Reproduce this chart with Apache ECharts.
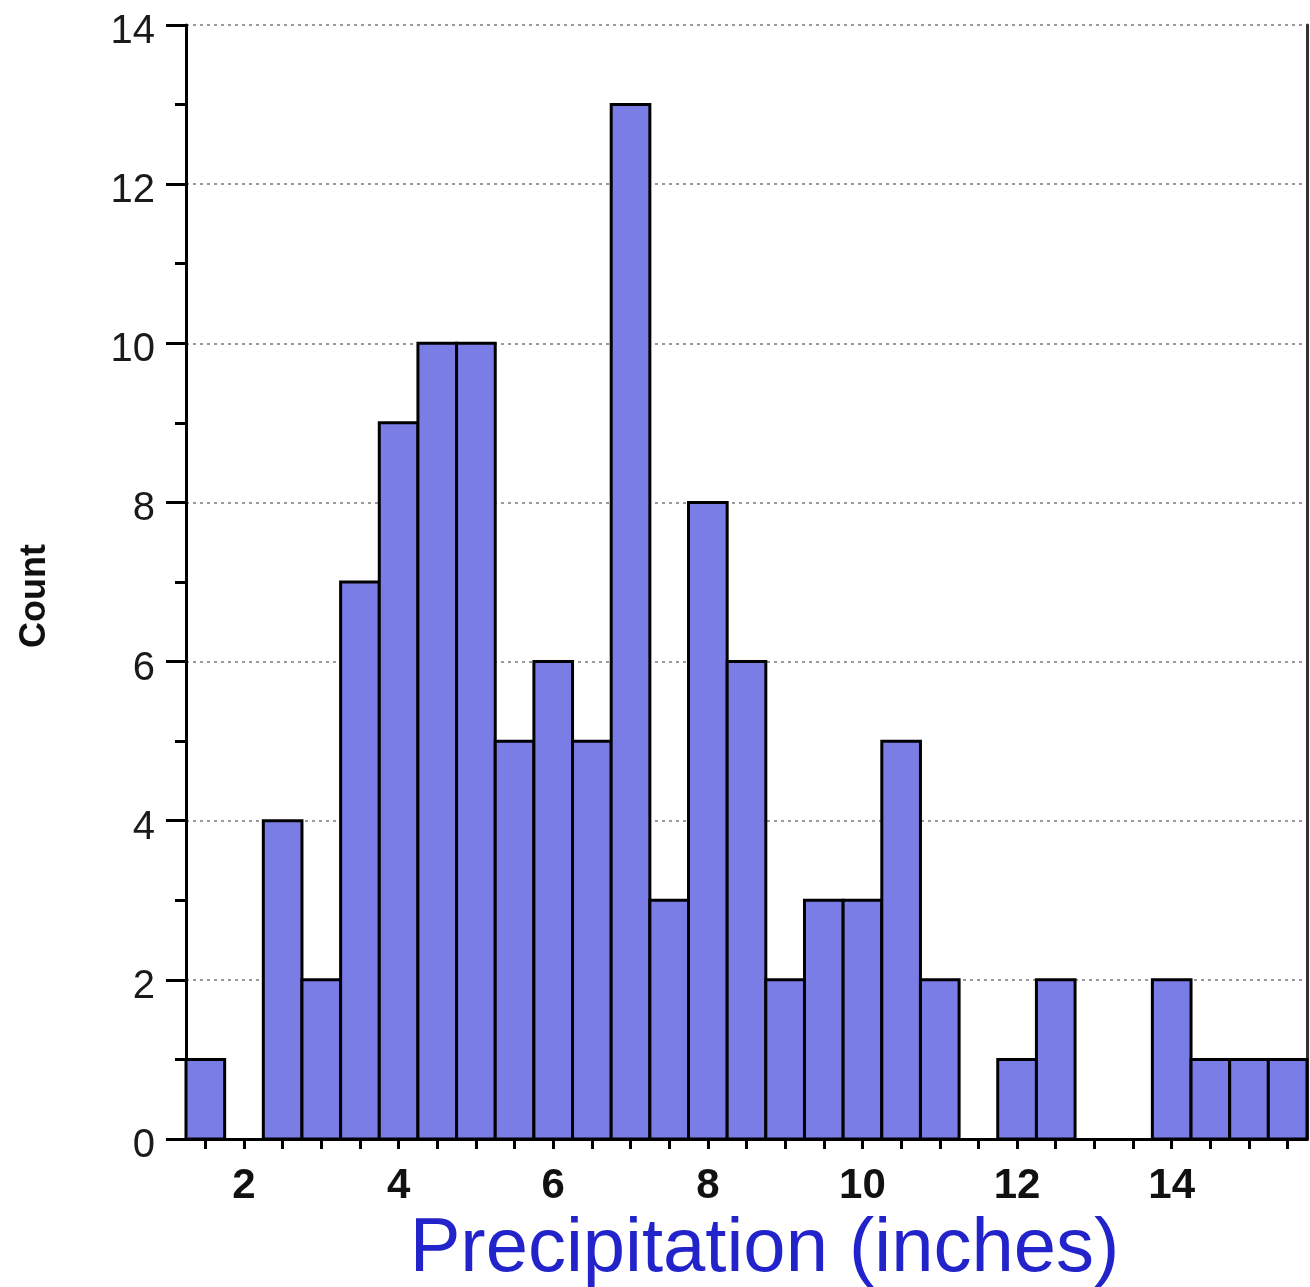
<!DOCTYPE html>
<html>
<head>
<meta charset="utf-8">
<style>
html,body{margin:0;padding:0;background:#fff;}
#chart{width:1310px;height:1287px;}
</style>
<script src="https://cdn.jsdelivr.net/npm/echarts@6/dist/echarts.min.js"></script>
</head>
<body>
<div id="chart"></div>
<script>
// ---- data ----
const binCenters = [1.5, 2, 2.5, 3, 3.5, 4, 4.5, 5, 5.5, 6, 6.5, 7, 7.5, 8, 8.5, 9, 9.5, 10, 10.5, 11, 11.5, 12, 12.5, 13, 13.5, 14, 14.5, 15, 15.5];
const counts     = [1,   0, 4,   2, 7,   9, 10,  10, 5,   6, 5,   13, 3,  8, 6,   2, 3,   3,  5,    2,  0,    1,  2,    0,  0,    2,  1,    1,  1];
const binWidth = 0.5;
const xTickValues = [1.5, 2, 2.5, 3, 3.5, 4, 4.5, 5, 5.5, 6, 6.5, 7, 7.5, 8, 8.5, 9, 9.5, 10, 10.5, 11, 11.5, 12, 12.5, 13, 13.5, 14, 14.5, 15, 15.5];
const xTickLabels = [2, 4, 6, 8, 10, 12, 14];
const yTickLabels = [0, 2, 4, 6, 8, 10, 12, 14];
const xTitle = 'Precipitation (inches)';
const yTitle = 'Count';

const FONT = '"Liberation Sans", Arial, Helvetica, sans-serif';
const chart = echarts.init(document.getElementById('chart'));

const seriesData = binCenters.map((c, i) => [c, counts[i]]);

chart.setOption({
  animation: false,
  backgroundColor: '#ffffff',
  grid: { left: 186, right: 3, top: 25, bottom: 148, containLabel: false, outerBoundsMode: 'none' },
  xAxis: {
    type: 'value',
    min: 1.25,
    max: 15.75,
    name: xTitle,
    nameLocation: 'middle',
    nameGap: 62,
    nameTextStyle: { fontFamily: FONT, fontSize: 76, color: '#2323cc', padding: [0, 0, 0, 36] },
    axisLine: { show: true, onZero: false, lineStyle: { color: '#000', width: 3 } },
    axisTick: { show: true, customValues: xTickValues, length: 10, inside: false, lineStyle: { color: '#000', width: 3 } },
    axisLabel: { customValues: xTickLabels, fontFamily: FONT, fontSize: 42, fontWeight: 'bold', color: '#111', margin: 26 },
    splitLine: { show: false }
  },
  yAxis: [{
    type: 'value',
    min: 0,
    max: 14,
    interval: 2,
    name: yTitle,
    nameLocation: 'middle',
    nameRotate: 90,
    nameGap: 133,
    nameTextStyle: { fontFamily: FONT, fontSize: 36, fontWeight: 'bold', color: '#111', padding: [0, 28, 0, 0] },
    axisLine: { show: true, lineStyle: { color: '#000', width: 3 } },
    axisTick: { show: true, length: 20, lineStyle: { color: '#000', width: 3 } },
    minorTick: { show: true, splitNumber: 2, length: 11, lineStyle: { color: '#000', width: 3 } },
    axisLabel: {
      fontFamily: FONT, fontSize: 40, color: '#1a1a1a', margin: 31,
      verticalAlign: 'top', lineHeight: 14,
      formatter: v => (yTickLabels.indexOf(v) >= 0 ? String(v) : '')
    },
    splitLine: { show: true, lineStyle: { color: '#9a9a9a', width: 2, type: [3, 4] } }
  }, {
    type: 'value',
    min: 0,
    max: 14,
    position: 'right',
    axisLine: { show: true, lineStyle: { color: '#333', width: 3 } },
    axisTick: { show: false },
    axisLabel: { show: false },
    splitLine: { show: false }
  }],
  series: [{
    type: 'custom',
    xAxisIndex: 0,
    yAxisIndex: 0,
    data: seriesData,
    renderItem: function (params, api) {
      const c = api.value(0);
      const v = api.value(1);
      if (!v) return null;
      const p0 = api.coord([c - binWidth / 2, 0]);
      const p1 = api.coord([c + binWidth / 2, v]);
      return {
        type: 'rect',
        shape: { x: p0[0], y: p1[1], width: p1[0] - p0[0], height: p0[1] - p1[1] },
        style: { fill: '#7b7de6', stroke: '#000', lineWidth: 3 }
      };
    }
  }]
});
</script>
</body>
</html>
